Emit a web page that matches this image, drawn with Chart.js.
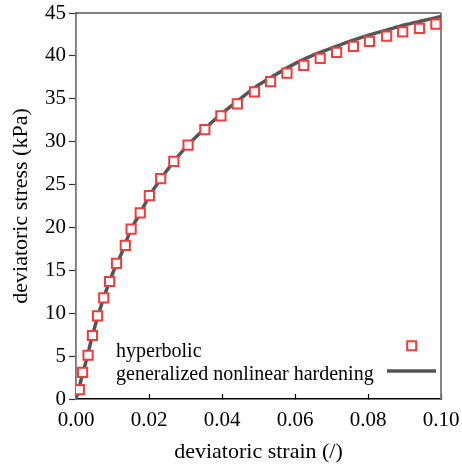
<!DOCTYPE html>
<html>
<head>
<meta charset="utf-8">
<script src="https://cdn.jsdelivr.net/npm/chart.js@4/dist/chart.umd.min.js"></script>
<style>
  html, body { margin: 0; padding: 0; background: #fff; }
  #wrap { width: 462px; height: 468px; }
  #fontprobe { font-family: "Liberation Serif"; position: absolute; left: -999px; top: 0; font-size: 20px; }
</style>
</head>
<body>
<div id="wrap"><canvas id="stressChart" width="462" height="468"></canvas></div>
<span id="fontprobe">deviatoric 0.02</span>
<script>
// hyperbolic model points
const hypStrain = [0.0009, 0.0018, 0.0033, 0.0045, 0.0059, 0.0076, 0.0092, 0.0111, 0.0135, 0.0151,
                   0.0176, 0.0201, 0.0232, 0.0268, 0.0307, 0.0353, 0.0397, 0.0442, 0.0489, 0.0533,
                   0.0578, 0.0624, 0.0669, 0.0714, 0.0760, 0.0804, 0.0851, 0.0895, 0.0941, 0.0986];
const hypStress = [1.1, 3.1, 5.1, 7.4, 9.7, 11.8, 13.7, 15.8, 17.9, 19.8,
                   21.7, 23.7, 25.7, 27.7, 29.6, 31.4, 33.0, 34.4, 35.8, 37.0,
                   38.0, 38.9, 39.7, 40.4, 41.1, 41.7, 42.3, 42.8, 43.2, 43.7];

// generalized nonlinear hardening curve
const gnhStrain = [0, 0.0025, 0.005, 0.0075, 0.01, 0.0125, 0.015, 0.0175, 0.02, 0.025, 0.03, 0.035,
                   0.04, 0.045, 0.05, 0.055, 0.06, 0.065, 0.07, 0.075, 0.08, 0.085, 0.09, 0.095, 0.1];
const gnhStress = [0, 4.0, 8.2, 11.7, 14.6, 17.0, 19.7, 21.6, 23.6, 26.7, 29.3, 31.4,
                   33.3, 35.0, 36.6, 37.9, 39.1, 40.1, 40.9, 41.7, 42.4, 43.0, 43.6, 44.1, 44.6];

const xTicks = [0, 0.02, 0.04, 0.06, 0.08, 0.10];
const yTicks = [0, 5, 10, 15, 20, 25, 30, 35, 40, 45];

const labelHyp = "hyperbolic";
const labelGnh = "generalized nonlinear hardening";
const red = "#f03c3c";
const grey = "#555555";
const serif = '"Liberation Serif", "Times New Roman", "DejaVu Serif", serif';

Chart.defaults.font.family = serif;

// top + right spines, and the legend (text first, symbol after)
const framePlugin = {
    id: 'frame',
    beforeDatasetsDraw(chart) {
        const { ctx, chartArea: a } = chart;
        ctx.save();
        ctx.strokeStyle = '#000';
        ctx.lineWidth = 1.2;
        ctx.beginPath();
        ctx.moveTo(a.left, a.top);
        ctx.lineTo(a.right, a.top);
        ctx.stroke();
        ctx.strokeStyle = '#777';
        ctx.lineWidth = 1.8;
        ctx.beginPath();
        ctx.moveTo(a.right, a.top);
        ctx.lineTo(a.right, a.bottom);
        ctx.stroke();
        ctx.restore();
    },
    afterDraw(chart) {
        const { ctx } = chart;
        ctx.save();
        ctx.font = "20px " + serif;
        ctx.fillStyle = '#000';
        ctx.textBaseline = 'alphabetic';
        ctx.textAlign = 'left';
        ctx.fillText(labelHyp, 116, 357);
        ctx.fillText(labelGnh, 116, 380);
        // marker
        ctx.strokeStyle = red;
        ctx.lineWidth = 2;
        ctx.fillStyle = '#fff';
        ctx.beginPath();
        ctx.rect(407.2, 341.2, 9, 9);
        ctx.fill();
        ctx.stroke();
        // line sample
        ctx.strokeStyle = grey;
        ctx.lineWidth = 3.5;
        ctx.beginPath();
        ctx.moveTo(387, 371);
        ctx.lineTo(436, 371);
        ctx.stroke();
        ctx.restore();
    }
};

function drawChart() {
    const ctx = document.getElementById('stressChart').getContext('2d');
    new Chart(ctx, {
        type: 'scatter',
        data: {
            datasets: [
                {
                    label: labelGnh,
                    type: 'line',
                    data: gnhStrain.map((s, i) => ({ x: s, y: gnhStress[i] })),
                    borderColor: grey,
                    borderWidth: 3.5,
                    pointRadius: 0,
                    cubicInterpolationMode: 'monotone',
                    fill: false,
                    order: 2
                },
                {
                    label: labelHyp,
                    data: hypStrain.map((s, i) => ({ x: s, y: hypStress[i] })),
                    pointStyle: 'rect',
                    pointRadius: 6.5,
                    pointBorderWidth: 2,
                    pointBorderColor: red,
                    pointBackgroundColor: '#fff',
                    order: 1
                }
            ]
        },
        options: {
            responsive: false,
            animation: false,
            devicePixelRatio: 1,
            layout: { padding: { left: 0, right: 21, top: 13, bottom: 0 } },
            plugins: {
                legend: { display: false },
                tooltip: { enabled: false }
            },
            scales: {
                x: {
                    type: 'linear',
                    min: 0,
                    max: 0.1,
                    afterFit: (scale) => {
                        scale.height = 69;
                        scale.paddingLeft = 0;
                        scale.paddingRight = 0;
                    },
                    afterBuildTicks: (scale) => { scale.ticks = xTicks.map(v => ({ value: v })); },
                    grid: { drawOnChartArea: false, tickLength: -5, color: '#000', tickWidth: 1.2 },
                    border: { color: '#000', width: 1.5 },
                    ticks: {
                        padding: 14,
                        color: '#000',
                        font: { family: serif, size: 21 },
                        callback: (v) => v.toFixed(2)
                    },
                    title: {
                        display: true,
                        text: 'deviatoric strain (/)',
                        color: '#000',
                        font: { family: serif, size: 22 },
                        padding: { top: 0, bottom: 3 }
                    }
                },
                y: {
                    type: 'linear',
                    min: 0,
                    max: 45,
                    afterFit: (scale) => {
                        scale.width = 76;
                        scale.paddingTop = 0;
                        scale.paddingBottom = 0;
                    },
                    afterBuildTicks: (scale) => { scale.ticks = yTicks.map(v => ({ value: v })); },
                    grid: { drawOnChartArea: false, tickLength: 7, color: '#333', tickWidth: 1.2 },
                    border: { color: '#777', width: 1.8 },
                    ticks: {
                        padding: 3,
                        color: '#000',
                        font: { family: serif, size: 21 }
                    },
                    title: {
                        display: true,
                        text: 'deviatoric stress (kPa)',
                        color: '#000',
                        font: { family: serif, size: 22 },
                        padding: { top: 8, bottom: 0 }
                    }
                }
            }
        },
        plugins: [framePlugin]
    });
}

document.fonts.load('20px "Liberation Serif"').then(drawChart, drawChart);
</script>
</body>
</html>
